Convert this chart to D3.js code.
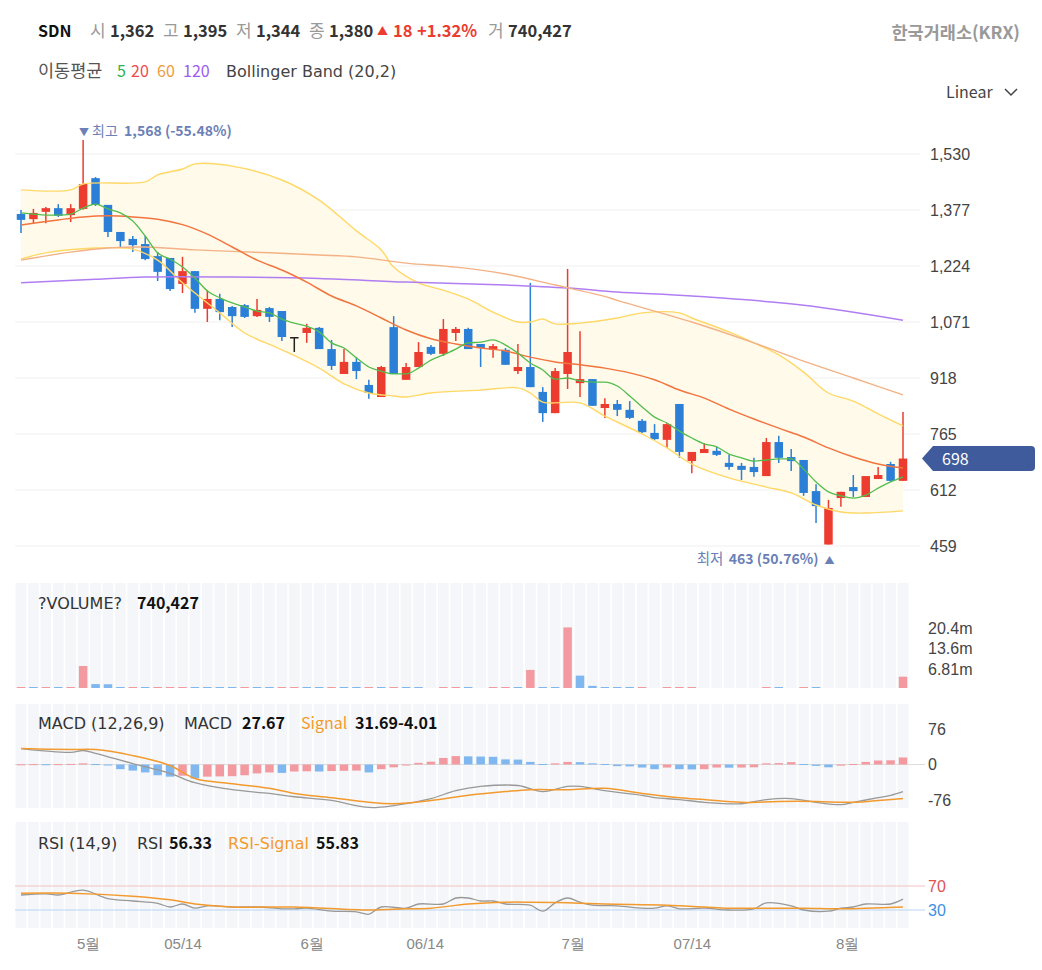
<!DOCTYPE html>
<html>
<head>
<meta charset="utf-8">
<script src="https://cdn.jsdelivr.net/npm/d3@7"></script>
<style>
  body { margin: 0; background: #fff; }
  svg { font-family: "Noto Sans CJK KR", "Noto Sans", sans-serif; }
</style>
</head>
<body>
<svg id="chart" width="1042" height="970"></svg>
<script>
// ---- data ----
const opens  = [1366,1352,1372,1382,1363,1380,1464,1391,1317,1298, 1284,1251,1246,1175,1210,1107,1134,1112,1117,1087,
                1109,1101,1030,1041,1055,997,929,962,899,866, 1057,913,948,1003,984,1041,1052,1011,995,995,
                937,948,880,822,929,904,915,836,847,831, 801,768,749,847,691,713,719,686,678,675,
                650,743,702,694,609,463,590,620,593,642, 683,637];
const highs  = [1377,1380,1385,1393,1393,1568,1467,1391,1317,1306, 1306,1262,1246,1249,1210,1158,1148,1115,1120,1134,
                1112,1101,1030,1066,1057,1022,997,975,913,951, 1087,959,1016,1008,1079,1057,1055,1011,1011,1000,
                1011,1178,893,945,1216,1046,915,863,858,855, 806,792,795,847,716,740,730,708,686,700,
                754,760,724,694,628,585,607,653,650,675, 689,825];
const lows   = [1314,1341,1341,1358,1344,1378,1388,1303,1276,1262, 1240,1183,1156,1150,1096,1071,1076,1057,1082,1085,
                1071,1019,989,1014,997,940,929,915,861,866, 929,913,948,981,978,1019,997,948,973,954,
                929,893,798,822,888,866,842,809,814,806, 768,749,727,700,658,713,705,667,639,648,
                650,686,664,596,522,463,566,593,593,642, 634,637];
const closes = [1350,1369,1382,1361,1382,1448,1391,1317,1292,1281, 1243,1208,1161,1210,1107,1134,1098,1087,1085,1104,
                1085,1030,1030,1055,997,951,962,937,877,948, 929,948,989,984,1052,1052,997,1000,1005,954,
                948,893,822,937,989,915,842,847,831,809, 770,751,792,716,716,724,708,675,667,661,
                743,700,691,604,568,563,607,609,650,653, 637,698];

// volume in millions
const volumes = [0.35,0.3,0.5,0.35,0.4,7.8,1.8,1.75,0.35,0.4, 0.35,0.55,0.6,0.65,0.6,0.4,0.35,0.3,0.35,0.3,
                 0.25,0.3,0.55,0.5,0.35,0.5,0.35,0.3,0.35,0.3, 0.6,0.35,0.3,0.05,0.35,0.4,0.35,0.05,0.35,0.4,
                 0.35,6.5,0.6,0.35,20.6,4.6,1.2,0.4,0.35,0.3, 0.35,0.05,0.35,0.4,0.45,0.05,0.05,0.05,0.05,0.05,
                 0.4,0.35,0.05,0.4,0.35,0.05,0.05,0.05,0.05,0.05, 0.05,4.25];

const ma5 = [1369,1366,1363,1363,1366,1382,1393,1380,1369,1347, 1306,1260,1243,1221,1191,1156,1137,1123,1112,1101,
             1096,1079,1068,1060,1044,1014,1000,973,948,937, 929,929,945,967,981,997,1014,1016,1022,1008,
             986,959,940,915,918,910,907,907,896,869, 839,811,795,773,754,738,730,710,700,691,
             694,697,697,669,634,607,596,590,598,617, 634,648];

// [candle index, value]
const ma20 = [[0,1336],[3,1350],[5,1358],[7,1361],[9,1358],[11,1352],[13,1337],[15,1311],[17,1276],[19,1240],
              [21,1213],[23,1180],[25,1142],[27,1115],[29,1082],[31,1049],[33,1025],[35,1011],[37,1000],[39,992],
              [41,975],[43,962],[45,954],[47,945],[49,932],[51,913],[53,885],[55,863],[57,833],[59,806],
              [61,781],[63,757],[65,727],[67,702],[69,683],[71,672]];
const ma60 = [[0,1240],[4,1262],[7,1273],[10,1276],[14,1268],[20,1260],[24,1254],[27,1249],[31,1232],[35,1221],
              [39,1202],[43,1172],[47,1141],[48,1130],[54,1071],[59,1014],[63,964],[67,918],[71,872]];
const ma120 = [[0,1178],[6,1188],[10,1194],[17,1194],[24,1190],[31,1180],[39,1172],[44,1164],[48,1153],[54,1142],
               [63,1117],[71,1076]];
const bbUpper = [[0,1432],[4,1432],[5,1448],[10,1454],[11,1473],[13,1489],[14,1503],[17,1497],[21,1459],[24,1404],
                 [27,1320],[29,1268],[30,1221],[32,1178],[34,1158],[36,1134],[38,1098],[40,1071],[41,1071],[42,1079],
                 [43,1066],[45,1068],[48,1082],[50,1096],[53,1096],[54,1082],[57,1044],[59,1014],[61,981],[63,934],
                 [65,877],[67,855],[69,820],[71,787]];
const bbLower = [[0,1243],[2,1260],[6,1273],[9,1270],[11,1240],[13,1178],[16,1096],[18,1041],[21,995],[24,945],
                 [26,902],[28,877],[30,869],[31,866],[33,877],[37,885],[40,891],[41,877],[42,852],[45,850],
                 [47,814],[50,765],[52,727],[54,683],[57,645],[60,620],[62,604],[64,571],[66,552],[68,549],[71,555]];

const macdLine = [[0,34],[4,26],[5,30],[6,24],[9,2],[12,-19],[14,-39],[17,-54],[20,-62],[22,-69],
                  [25,-77],[28,-92],[30,-88],[33,-73],[35,-56],[37,-47],[40,-45],[42,-58],[44,-47],[45,-47],
                  [47,-56],[50,-66],[51,-71],[53,-75],[55,-81],[58,-84],[60,-75],[62,-73],[64,-81],[66,-86],
                  [67,-81],[69,-71],[70,-66],[71,-58]];
const macdSignal = [[0,34],[4,32],[6,32],[9,19],[12,-2],[14,-30],[17,-41],[20,-51],[22,-62],[25,-71],
                    [28,-81],[30,-84],[33,-77],[36,-66],[39,-58],[41,-54],[44,-54],[47,-51],[50,-62],[53,-71],
                    [55,-75],[58,-81],[61,-79],[64,-79],[67,-81],[69,-77],[71,-73]];
const macdHist = [0.5,0.8,0.6,0.9,1.2,2.5,1,-1,-10,-13, -17,-23,-26,-24,-30,-26,-25.5,-25,-23,-19,
                  -17,-18,-15,-14.5,-15,-14,-13.5,-13,-17,-10, -6,-1,3.5,6,14,18,17.5,17,16.5,11,
                  10.5,5.5,0,2.5,5.5,5,2.5,0,-3.5,-4, -6.5,-10,-6.5,-10,-10.5,-10,-6.5,-6.8,-6.5,-6,
                  2.5,3,5,0,-3,-6,-2.5,0,5.5,8.5, 9,15];

const rsiLine = [[0,55],[2,57],[3,55],[5,63],[7,49],[9,45],[11,41],[12,35],[13,40],[14,33],[15,37],[17,35],
                 [19,35],[21,32],[22,32],[23,33],[25,28],[27,27],[28,23],[29,35],[31,33],[32,40],[34,40],[35,50],
                 [36,50],[37,45],[38,45],[39,40],[41,38],[42,28],[43,42],[44,50],[45,43],[46,38],[48,37],[50,33],
                 [51,33],[52,37],[53,32],[55,33],[57,30],[59,32],[60,42],[62,37],[63,30],[65,28],[66,33],[67,35],
                 [68,40],[70,40],[71,48]];
const rsiSignal = [[0,58],[4,58],[9,53],[12,47],[14,40],[17,35],[22,35],[28,30],[31,32],[33,33],[36,40],[39,43],
                   [41,43],[44,42],[47,40],[52,38],[55,35],[57,33],[60,33],[63,33],[66,32],[68,33],[71,35]];

const priceTicks = [459,612,765,918,1071,1224,1377,1530];
const volTicks = [6.81,13.6,20.4];
const macdTicks = [-76,0,76];
const rsiTicks = [30,70];
const xTickIdx = [5.4,13,23.4,32.5,44.4,54,66.5];
const xTickLabels = ["5월","05/14","6월","06/14","7월","07/14","8월"];

// ---- setup ----
const RED = "#ec3c30", BLUE = "#2b7fd6", PINK = "#f29aa0", LBLUE = "#80b7ef";
const LATIN = "DejaVu Sans";
const svg = d3.select("#chart");
const n = closes.length;

const x = d3.scaleLinear().domain([0, n - 1]).range([21, 903]);
const step = x(1) - x(0);
const bodyW = 8.5;

const yP = d3.scaleLinear().domain([459, 1530]).range([546, 154]);
const yV = d3.scaleLinear().domain([0, 20.4]).range([689.5, 628]);
const yM = d3.scaleLinear().domain([-76, 76]).range([800, 729]);
const yR = d3.scaleLinear().domain([30, 70]).range([910, 886]);

function txt(g, px, py, s, o) {
  o = o || {};
  const t = g.append("text").attr("x", px).attr("y", py).text(s)
    .attr("font-size", o.size || 16)
    .attr("font-weight", o.bold ? "bold" : "normal")
    .attr("fill", o.fill || "#333")
    .attr("text-anchor", o.anchor || "start");
  if (o.font) t.attr("font-family", o.font);
  return t;
}

// ---- header ----
const head = svg.append("g");
txt(head, 38, 37, "SDN", {bold: true, fill: "#111"});
txt(head, 90, 37, "시", {fill: "#999", size: 17});
txt(head, 110, 37, "1,362", {bold: true, fill: "#333", size: 16.5});
txt(head, 163, 37, "고", {fill: "#999", size: 17});
txt(head, 183, 37, "1,395", {bold: true, fill: "#333", size: 16.5});
txt(head, 236, 37, "저", {fill: "#999", size: 17});
txt(head, 256, 37, "1,344", {bold: true, fill: "#333", size: 16.5});
txt(head, 309, 37, "종", {fill: "#999", size: 17});
txt(head, 329, 37, "1,380", {bold: true, fill: "#333", size: 16.5});
txt(head, 377, 35, "▲", {fill: RED, size: 11});
txt(head, 393, 37, "18", {bold: true, fill: RED, size: 16.5});
txt(head, 417, 37, "+1.32%", {bold: true, fill: RED, size: 16.5});
txt(head, 488, 37, "거", {fill: "#999", size: 17});
txt(head, 508, 37, "740,427", {bold: true, fill: "#333", size: 16.5});
txt(head, 1020, 39, "한국거래소(KRX)", {bold: true, fill: "#999", anchor: "end", size: 17.5});

txt(head, 38, 77, "이동평균", {fill: "#555", size: 17.5});
txt(head, 117, 77, "5", {fill: "#2eb34a"});
txt(head, 131, 77, "20", {fill: "#f04b4b"});
txt(head, 157, 77, "60", {fill: "#f09a3a"});
txt(head, 183, 77, "120", {fill: "#9b5cf0"});
txt(head, 226, 77, "Bollinger Band (20,2)", {fill: "#444", font: LATIN});

txt(head, 946, 98, "Linear", {fill: "#444"});
head.append("path").attr("d", "M1005,89 L1011,95 L1017,89")
  .attr("fill", "none").attr("stroke", "#444").attr("stroke-width", 1.5);

// ---- main price pane ----
const main = svg.append("g");
main.selectAll("line.grid").data(priceTicks).join("line")
  .attr("x1", 15).attr("x2", 920)
  .attr("y1", d => yP(d)).attr("y2", d => yP(d))
  .attr("stroke", "#f0f0f0").attr("stroke-width", 1);

const curve = d3.curveCatmullRom.alpha(0.5);
const lineP = d3.line().x(d => x(d[0])).y(d => yP(d[1])).curve(curve);

// bollinger fill
const upPath = lineP(bbUpper);
const loPath = lineP(bbLower.slice().reverse());
main.append("path").attr("d", upPath + "L" + loPath.slice(1) + "Z")
  .attr("fill", "#fffaea");

// candles
const candles = main.selectAll("g.candle").data(d3.range(n)).join("g");
function candleColor(i) {
  if (closes[i] > opens[i]) return RED;
  if (closes[i] < opens[i]) return BLUE;
  return "#222";
}
candles.append("line")
  .attr("x1", i => x(i)).attr("x2", i => x(i))
  .attr("y1", i => yP(highs[i])).attr("y2", i => yP(lows[i]))
  .attr("stroke", candleColor).attr("stroke-width", 1.5);
candles.append("rect")
  .attr("x", i => x(i) - bodyW / 2).attr("width", bodyW)
  .attr("y", i => yP(Math.max(opens[i], closes[i])))
  .attr("height", i => Math.max(1.5, Math.abs(yP(opens[i]) - yP(closes[i]))))
  .attr("fill", candleColor);

// overlay lines
main.append("path").attr("d", lineP(bbUpper)).attr("fill", "none").attr("stroke", "#ffd866").attr("stroke-width", 1.4);
main.append("path").attr("d", lineP(bbLower)).attr("fill", "none").attr("stroke", "#ffd866").attr("stroke-width", 1.4);
main.append("path").attr("d", lineP(ma120)).attr("fill", "none").attr("stroke", "#b07ef2").attr("stroke-width", 1.5);
main.append("path").attr("d", lineP(ma60)).attr("fill", "none").attr("stroke", "#f3b285").attr("stroke-width", 1.4);
main.append("path").attr("d", lineP(ma20)).attr("fill", "none").attr("stroke", "#f2743f").attr("stroke-width", 1.5);
main.append("path")
  .attr("d", d3.line().x((d, i) => x(i)).y(d => yP(d)).curve(d3.curveMonotoneX)(ma5))
  .attr("fill", "none").attr("stroke", "#52bd4f").attr("stroke-width", 1.3);

// high / low markers
const hiIdx = d3.maxIndex(highs), loIdx = d3.minIndex(lows);
const mark = main.append("g");
txt(mark, x(hiIdx) - 4, yP(highs[hiIdx]) - 4, "▼", {fill: "#6b80b6", size: 10});
txt(mark, x(hiIdx) + 9, yP(highs[hiIdx]) - 4, "최고", {fill: "#6b80b6", size: 14});
txt(mark, x(hiIdx) + 41, yP(highs[hiIdx]) - 4, "1,568 (-55.48%)", {fill: "#6b80b6", size: 14, bold: true});
txt(mark, x(loIdx) + 6, yP(lows[loIdx]) + 19, "▲", {fill: "#6b80b6", size: 10, anchor: "end"});
txt(mark, x(loIdx) - 10, yP(lows[loIdx]) + 19, "463 (50.76%)", {fill: "#6b80b6", size: 14, bold: true, anchor: "end"});
txt(mark, x(loIdx) - 105, yP(lows[loIdx]) + 19, "최저", {fill: "#6b80b6", size: 14.5, anchor: "end"});

// price axis
const pAxis = svg.append("g").attr("transform", "translate(920,0)")
  .call(d3.axisRight(yP).tickValues(priceTicks).tickFormat(d3.format(",")).tickSize(0).tickPadding(10));
pAxis.select(".domain").remove();
pAxis.selectAll("text").attr("font-size", 16).attr("fill", "#444").attr("font-family", null);

// last price tag
const ty = yP(closes[n - 1]);
svg.append("path")
  .attr("d", `M922,${ty} L933,${ty - 12.5} H1031 Q1035,${ty - 12.5} 1035,${ty - 8.5} V${ty + 8.5} Q1035,${ty + 12.5} 1031,${ty + 12.5} H933 Z`)
  .attr("fill", "#3f5b9b");
txt(svg, 942, ty + 6, d3.format(",")(closes[n - 1]), {fill: "#fff", size: 16});

// ---- sub panes: column stripes ----
function stripes(y0, y1) {
  svg.append("g").selectAll("rect").data(d3.range(n)).join("rect")
    .attr("x", i => x(i) - step / 2 + 0.8).attr("width", step - 1.6)
    .attr("y", y0).attr("height", y1 - y0)
    .attr("fill", "#f4f6f9");
}
stripes(583, 688);
stripes(704, 808);
stripes(822, 928);

function upDownColor(arr) {
  return i => (i === 0 || arr[i] >= arr[i - 1]) ? PINK : LBLUE;
}

// ---- volume ----
const vg = svg.append("g");
const vColor = upDownColor(volumes);
vg.selectAll("rect").data(d3.range(n)).join("rect")
  .attr("x", i => x(i) - bodyW / 2).attr("width", bodyW)
  .attr("height", i => volumes[i] < 0.2 ? 0 : Math.max(1, 688 - yV(volumes[i])))
  .attr("y", i => 688 - (volumes[i] < 0.2 ? 0 : Math.max(1, 688 - yV(volumes[i]))))
  .attr("fill", vColor);
const vAxis = svg.append("g").attr("transform", "translate(918,0)")
  .call(d3.axisRight(yV).tickValues(volTicks).tickFormat(d => d + "m").tickSize(0).tickPadding(10));
vAxis.select(".domain").remove();
vAxis.selectAll("text").attr("font-size", 16).attr("fill", "#444").attr("font-family", null);
txt(vg, 38, 609, "?VOLUME?", {fill: "#333", font: LATIN});
txt(vg, 137, 609, "740,427", {fill: "#111", bold: true});

// ---- MACD ----
const mg = svg.append("g");
mg.append("line").attr("x1", 15).attr("x2", 925).attr("y1", yM(0)).attr("y2", yM(0))
  .attr("stroke", "#dcdcdc").attr("stroke-width", 1);
const hColor = upDownColor(macdHist);
mg.selectAll("rect").data(d3.range(n)).join("rect")
  .attr("x", i => x(i) - bodyW / 2).attr("width", bodyW)
  .attr("y", i => Math.min(yM(macdHist[i]), yM(0)) - (macdHist[i] === 0 ? 0.5 : 0))
  .attr("height", i => Math.max(1, Math.abs(yM(macdHist[i]) - yM(0))))
  .attr("fill", hColor);
const lineM = d3.line().x(d => x(d[0])).y(d => yM(d[1])).curve(curve);
mg.append("path").attr("d", lineM(macdLine)).attr("fill", "none").attr("stroke", "#999").attr("stroke-width", 1.3);
mg.append("path").attr("d", lineM(macdSignal)).attr("fill", "none").attr("stroke", "#f39a2e").attr("stroke-width", 1.5);
const mAxis = svg.append("g").attr("transform", "translate(918,0)")
  .call(d3.axisRight(yM).tickValues(macdTicks).tickFormat(d => String(d)).tickSize(0).tickPadding(10));
mAxis.select(".domain").remove();
mAxis.selectAll("text").attr("font-size", 16).attr("fill", "#444").attr("font-family", null);
txt(mg, 38, 729, "MACD (12,26,9)", {fill: "#333", font: LATIN});
txt(mg, 184, 729, "MACD", {fill: "#333", font: LATIN});
txt(mg, 242, 729, "27.67", {fill: "#111", bold: true});
txt(mg, 301, 729, "Signal", {fill: "#f39a2e"});
txt(mg, 355, 729, "31.69-4.01", {fill: "#111", bold: true});

// ---- RSI ----
const rg = svg.append("g");
rg.append("line").attr("x1", 15).attr("x2", 925).attr("y1", yR(70)).attr("y2", yR(70))
  .attr("stroke", "#f5c2c2").attr("stroke-width", 1);
rg.append("line").attr("x1", 15).attr("x2", 925).attr("y1", yR(30)).attr("y2", yR(30))
  .attr("stroke", "#b9d5f5").attr("stroke-width", 1);
const lineR = d3.line().x(d => x(d[0])).y(d => yR(d[1])).curve(curve);
rg.append("path").attr("d", lineR(rsiLine)).attr("fill", "none").attr("stroke", "#999").attr("stroke-width", 1.3);
rg.append("path").attr("d", lineR(rsiSignal)).attr("fill", "none").attr("stroke", "#f39a2e").attr("stroke-width", 1.5);
const rAxis = svg.append("g").attr("transform", "translate(918,0)")
  .call(d3.axisRight(yR).tickValues(rsiTicks).tickSize(0).tickPadding(10));
rAxis.select(".domain").remove();
rAxis.selectAll("text").attr("font-size", 16).attr("font-family", null)
  .attr("fill", d => d === 70 ? "#e05252" : "#3d8fe2");
txt(rg, 38, 849, "RSI (14,9)", {fill: "#333", font: LATIN});
txt(rg, 137, 849, "RSI", {fill: "#333", font: LATIN});
txt(rg, 169, 849, "56.33", {fill: "#111", bold: true});
txt(rg, 228, 849, "RSI-Signal", {fill: "#f39a2e", font: LATIN});
txt(rg, 316, 849, "55.83", {fill: "#111", bold: true});

// ---- x axis ----
const xAxis = svg.append("g").attr("transform", "translate(0,930)")
  .call(d3.axisBottom(x).tickValues(xTickIdx).tickFormat((d, i) => xTickLabels[i]).tickSize(0).tickPadding(8));
xAxis.select(".domain").remove();
xAxis.selectAll("text").attr("font-size", 15).attr("fill", "#888").attr("font-family", null);
</script>
</body>
</html>
